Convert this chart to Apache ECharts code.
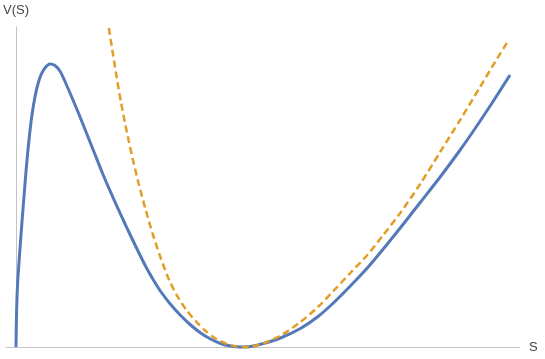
<!DOCTYPE html>
<html>
<head>
<meta charset="utf-8">
<script src="https://cdn.jsdelivr.net/npm/echarts@6/dist/echarts.min.js"></script>
<style>
  html, body { margin: 0; padding: 0; background: #fff; }
  #main { width: 545px; height: 359px; }
</style>
</head>
<body>
<div id="main"></div>
<script>
// curve values, [S, V(S)]
var potential = [
  [0, 0], [0.05, 3.0], [0.1, 4.9], [0.2, 7.0], [0.4, 9.8], [0.6, 12.5], [0.8, 15.0],
  [1.0, 17.5], [1.2, 19.7], [1.4, 21.6], [1.6, 23.2], [1.9, 25.0], [2.2, 26.3],
  [2.5, 27.2], [2.9, 27.9], [3.4, 28.3], [3.9, 28.15], [4.4, 27.6], [4.8, 26.8],
  [5.5, 25.2], [6.3, 23.3], [7.1, 21.3], [7.9, 19.3], [8.7, 17.3], [9.5, 15.45],
  [10.7, 12.8], [11.5, 11.1], [12.2, 9.65], [13.0, 8.05], [13.8, 6.65], [14.5, 5.55],
  [15.5, 4.25], [16.5, 3.15], [17.5, 2.2], [18.5, 1.4], [19.5, 0.8], [20.5, 0.35],
  [21.5, 0.1], [22.5, 0], [23.5, 0.04], [24.8, 0.35], [26.5, 0.9], [28.5, 1.85],
  [30.2, 3.0], [31.8, 4.4], [33.5, 6.1], [35.2, 7.9], [36.8, 9.8], [38.5, 11.9],
  [40.5, 14.45], [42.5, 17.0], [44.5, 19.7], [46.0, 21.85], [47.7, 24.4], [49.5, 27.2]
];
var approx = [
  [9.3, 31.9], [9.7, 29.4], [10.1, 26.9], [10.5, 24.6], [10.9, 22.5], [11.3, 20.6],
  [11.7, 18.8], [12.3, 16.3], [13.0, 13.7], [13.7, 11.3], [14.5, 8.9], [15.3, 6.8],
  [16.1, 5.2], [17.0, 3.8], [18.0, 2.6], [19.0, 1.6], [20.0, 0.85], [21.0, 0.35],
  [22.0, 0.07], [22.9, 0], [23.5, 0.03], [24.8, 0.35], [26.7, 1.25], [28.5, 2.5],
  [30.2, 3.95], [31.8, 5.6], [33.5, 7.4], [35.2, 9.2], [36.8, 11.2], [38.5, 13.4],
  [40.5, 16.3], [42.5, 19.5], [44.5, 22.7], [46.5, 26.0], [48.0, 28.5], [49.3, 30.6]
];
var xName = 'S';
var yName = 'V(S)';

var myChart = echarts.init(document.getElementById('main'));

var axisStyle = { lineStyle: { color: '#c4c4c4', width: 1 } };
var nameStyle = { color: '#444', fontSize: 13, fontFamily: 'Arial, Liberation Sans' };

option = {
  animation: false,
  grid: { left: 5, right: 25, top: 27, bottom: 12 },
  xAxis: {
    type: 'value', min: -1, max: 50.5,
    name: xName, nameLocation: 'end', nameGap: 9, nameTextStyle: nameStyle,
    axisLine: axisStyle, axisTick: { show: false }, axisLabel: { show: false },
    splitLine: { show: false }
  },
  yAxis: {
    type: 'value', min: 0, max: 32,
    name: yName, nameLocation: 'end', nameGap: 10, nameTextStyle: nameStyle,
    axisLine: Object.assign({ onZero: true }, axisStyle),
    axisTick: { show: false }, axisLabel: { show: false },
    splitLine: { show: false }
  },
  series: [
    {
      type: 'line', data: potential, smooth: 0.25, symbol: 'none', clip: false,
      lineStyle: { color: '#5479b9', width: 3 }
    },
    {
      type: 'line', data: approx, smooth: 0.25, symbol: 'none', clip: false,
      lineStyle: { color: '#e29d24', width: 2.5, type: [7, 4] }
    }
  ]
};

myChart.setOption(option);
</script>
</body>
</html>
